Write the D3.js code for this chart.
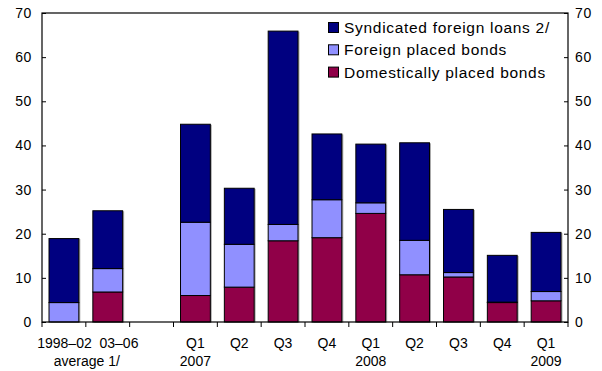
<!DOCTYPE html>
<html><head><meta charset="utf-8">
<script src="https://cdn.jsdelivr.net/npm/d3@7/dist/d3.min.js"></script>
<style>body{margin:0;background:#fff;} svg{display:block;font-family:"Liberation Sans",Arial,sans-serif;} text{white-space:pre;}</style>
</head><body>
<svg id="c" width="602" height="371"></svg>
<script>
const categories = ["1998–02", "03–06", "gap", "Q1 2007", "Q2 2007", "Q3 2007", "Q4 2007", "Q1 2008", "Q2 2008", "Q3 2008", "Q4 2008", "Q1 2009"];
const tickLine1 = ["", "", "", "Q1", "Q2", "Q3", "Q4", "Q1", "Q2", "Q3", "Q4", "Q1"];
const tickLine2 = ["", "", "", "2007", "", "", "", "2008", "", "", "", "2009"];
const averageLabel1 = "1998–02  03–06";
const averageLabel2 = "average 1/";
const domestic  = [0,   6.8, null, 6.0, 7.9, 18.4, 19.1, 24.6, 10.7, 10.2, 4.4, 4.8];
const foreign   = [4.4, 5.3, null, 16.6, 9.7, 3.7, 8.6, 2.4, 7.8, 1.0, 0.1, 2.1];
const syndicated= [14.5,13.1, null, 22.2, 12.7, 43.8, 14.9, 13.3, 22.1, 14.3, 10.6, 13.4];
const seriesNames = ["Syndicated foreign loans 2/", "Foreign placed bonds", "Domestically placed bonds"];
const colors = {"Syndicated foreign loans 2/":"#000080", "Foreign placed bonds":"#9090FF", "Domestically placed bonds":"#900048"};
const yTicks = [0,10,20,30,40,50,60,70];

const svg = d3.select("#c");
const L=42, R=568, T=13, B=322;
const x = d3.scaleBand().domain(categories).range([L,R]).paddingInner(0.32).paddingOuter(0.16);
const y = d3.scaleLinear().domain([0,70]).range([B,T]);

const rows = categories.map((c,i)=>({cat:c, "Domestically placed bonds":domestic[i]||0, "Foreign placed bonds":foreign[i]||0, "Syndicated foreign loans 2/":syndicated[i]||0, empty: domestic[i]===null}));
const stack = d3.stack().keys(["Domestically placed bonds","Foreign placed bonds","Syndicated foreign loans 2/"]);
const layers = stack(rows);

const g = svg.append("g");
g.selectAll(null).data(rows.filter(d=>!d.empty)).enter().append("rect")
  .attr("x", d=>x(d.cat)+1.5).attr("width", x.bandwidth())
  .attr("y", d=>y(d["Domestically placed bonds"]+d["Foreign placed bonds"]+d["Syndicated foreign loans 2/"])+0.5)
  .attr("height", d=>B-y(d["Domestically placed bonds"]+d["Foreign placed bonds"]+d["Syndicated foreign loans 2/"]))
  .attr("fill","#aaa");
layers.forEach(layer=>{
  g.selectAll(null).data(layer.filter(d=>!d.data.empty && d[1]-d[0]>0)).enter().append("rect")
    .attr("x", d=>x(d.data.cat)).attr("width", x.bandwidth())
    .attr("y", d=>y(d[1])).attr("height", d=>y(d[0])-y(d[1]))
    .attr("fill", colors[layer.key]).attr("stroke","#000").attr("stroke-width",1);
});

svg.append("rect").attr("x",L).attr("y",T).attr("width",R-L).attr("height",B-T).attr("fill","none").attr("stroke","#000").attr("stroke-width",1.2);

const yl = svg.append("g").attr("transform",`translate(${L},0)`)
  .call(d3.axisRight(y).tickValues(yTicks).tickSize(4).tickFormat(""));
yl.select(".domain").remove();
const yr = svg.append("g").attr("transform",`translate(${R},0)`)
  .call(d3.axisLeft(y).tickValues(yTicks).tickSize(4).tickFormat(""));
yr.select(".domain").remove();
yTicks.forEach(v=>{
  svg.append("text").attr("x",L-10).attr("y",y(v)+5).attr("text-anchor","end").attr("font-size",14).attr("letter-spacing",0.6).text(v);
  svg.append("text").attr("x",R+7).attr("y",y(v)+5).attr("text-anchor","start").attr("font-size",14).attr("letter-spacing",0.6).text(v);
});

const step = x.step();
const bounds = d3.range(categories.length+1).map(i=>L+i*step);
svg.selectAll(null).data(bounds).enter().append("line")
  .attr("x1",d=>d).attr("x2",d=>d).attr("y1",B).attr("y2",B+5).attr("stroke","#000");

categories.forEach((c,i)=>{
  const cx = L + (i+0.5)*step;
  if (tickLine1[i]) svg.append("text").attr("x",cx).attr("y",348).attr("text-anchor","middle").attr("font-size",14).text(tickLine1[i]);
  if (tickLine2[i]) svg.append("text").attr("x",cx).attr("y",366).attr("text-anchor","middle").attr("font-size",14).text(tickLine2[i]);
});
svg.append("text").attr("x",L+step+2).attr("y",348).attr("text-anchor","middle").attr("font-size",14).text(averageLabel1);
svg.append("text").attr("x",L+step+1).attr("y",366).attr("text-anchor","middle").attr("font-size",14).text(averageLabel2);

seriesNames.forEach((n,i)=>{
  const ly = 22.5 + i*22.3;
  svg.append("rect").attr("x",328.5).attr("y",ly).attr("width",10).attr("height",10).attr("fill",colors[n]).attr("stroke","#000");
  svg.append("text").attr("x",344).attr("y",ly+10.5).attr("font-size",15.5).attr("letter-spacing",0.7).text(n);
});
</script>
</body></html>
